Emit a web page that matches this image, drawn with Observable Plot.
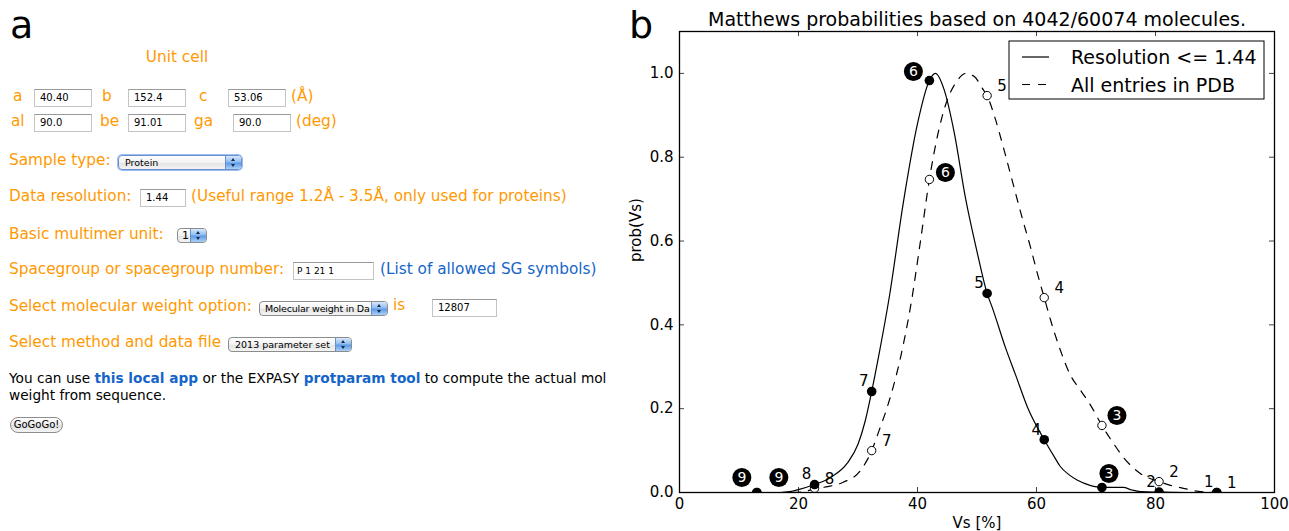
<!DOCTYPE html>
<html><head><meta charset="utf-8">
<script src="https://cdn.jsdelivr.net/npm/d3@7"></script>
<script src="https://cdn.jsdelivr.net/npm/@observablehq/plot@0.6"></script>
<style>
html,body{margin:0;padding:0;background:#fff;}
#page{position:relative;width:1289px;height:531px;overflow:hidden;font-family:"DejaVu Sans",Verdana,sans-serif;}
.t{position:absolute;font-size:15.3px;line-height:15px;white-space:nowrap;color:#ff9900;}
.blk{color:#000;font-size:13.7px;}
.lnk{color:#1565c9;}
.b{font-weight:bold;color:#1565c9;}
.letter{position:absolute;font-size:38px;line-height:38px;color:#000;}
.inp{position:absolute;box-sizing:border-box;background:#fff;border:1px solid #c4c4c4;border-top-color:#9a9a9a;font-size:10px;color:#000;padding-left:5px;white-space:nowrap;overflow:hidden;}
.sel{position:absolute;box-sizing:border-box;border:1px solid #8c8c8c;border-radius:4px;background:linear-gradient(#ffffff,#f2f2f2 50%,#e2e2e2 51%,#f4f4f4);font-size:9.5px;color:#000;padding-left:6px;white-space:nowrap;overflow:hidden;}
.sel .cap{position:absolute;right:0;top:0;bottom:0;width:15px;border-left:1px solid #6f8fc0;background:linear-gradient(#d7e8fc,#8fbdf3 45%,#5e9be6 55%,#a9d0f8);}
.sel .cap:before{content:"";position:absolute;left:5px;top:2px;border-left:2.5px solid transparent;border-right:2.5px solid transparent;border-bottom:3px solid #1a2a44;}
.sel .cap:after{content:"";position:absolute;left:5px;bottom:2px;border-left:2.5px solid transparent;border-right:2.5px solid transparent;border-top:3px solid #1a2a44;}
.focus{border-color:#6a8fd0;box-shadow:0 0 0 1px #9cc0f0;}
.btn{position:absolute;box-sizing:border-box;border:1px solid #8c8c8c;border-radius:8px;background:linear-gradient(#ffffff,#ececec 50%,#dedede 51%,#f4f4f4);font-size:10px;color:#000;text-align:center;white-space:nowrap;}
#chart{position:absolute;left:630px;top:0;}
</style>
</head><body>
<div id="page">
  <div class="letter" style="left:10px;top:6px;">a</div>
  <div class="letter" style="left:629px;top:6px;">b</div>

  <div class="t" style="left:0;width:354px;text-align:center;top:50px;">Unit cell</div>

  <div class="t" style="left:13px;top:89px;">a</div>
  <div class="inp" style="left:34px;top:89px;width:58px;height:18px;line-height:16px;">40.40</div>
  <div class="t" style="left:102px;top:89px;">b</div>
  <div class="inp" style="left:128px;top:89px;width:58px;height:18px;line-height:16px;">152.4</div>
  <div class="t" style="left:199px;top:89px;">c</div>
  <div class="inp" style="left:228px;top:89px;width:58px;height:18px;line-height:16px;">53.06</div>
  <div class="t" style="left:291px;top:89px;">(Å)</div>

  <div class="t" style="left:11px;top:114px;">al</div>
  <div class="inp" style="left:34px;top:114px;width:58px;height:18px;line-height:16px;">90.0</div>
  <div class="t" style="left:100px;top:114px;">be</div>
  <div class="inp" style="left:128px;top:114px;width:58px;height:18px;line-height:16px;">91.01</div>
  <div class="t" style="left:194px;top:114px;">ga</div>
  <div class="inp" style="left:233px;top:114px;width:58px;height:18px;line-height:16px;">90.0</div>
  <div class="t" style="left:296px;top:114px;">(deg)</div>

  <div class="t" style="left:9px;top:153px;">Sample type:</div>
  <div class="sel focus" style="left:118px;top:155px;width:124px;height:15px;line-height:13px;">Protein<span class="cap"></span></div>

  <div class="t" style="left:9px;top:189px;">Data resolution:</div>
  <div class="inp" style="left:140px;top:189px;width:46px;height:18px;line-height:16px;">1.44</div>
  <div class="t" style="left:191px;top:189px;">(Useful range 1.2Å - 3.5Å, only used for proteins)</div>

  <div class="t" style="left:9px;top:227px;">Basic multimer unit:</div>
  <div class="sel" style="left:177px;top:228px;width:30px;height:15px;line-height:13px;padding-left:4px;font-size:11px;">1<span class="cap"></span></div>

  <div class="t" style="left:9px;top:262px;">Spacegroup or spacegroup number:</div>
  <div class="inp" style="left:293px;top:262px;width:81px;height:18px;line-height:16px;font-size:9px;padding-left:3px;">P 1 21 1</div>
  <div class="t lnk" style="left:380px;top:262px;">(List of allowed SG symbols)</div>

  <div class="t" style="left:9px;top:299px;">Select molecular weight option:</div>
  <div class="sel" style="left:259px;top:301px;width:129px;height:15px;line-height:13px;letter-spacing:-0.2px;padding-left:5px;">Molecular weight in Da<span class="cap"></span></div>
  <div class="t" style="left:393px;top:298px;">is</div>
  <div class="inp" style="left:432px;top:299px;width:65px;height:18px;line-height:16px;">12807</div>

  <div class="t" style="left:9px;top:335px;">Select method and data file</div>
  <div class="sel" style="left:228px;top:337px;width:124px;height:15px;line-height:13px;">2013 parameter set<span class="cap"></span></div>

  <div class="t blk" style="left:9px;top:371px;">You can use <span class="b">this local app</span> or the EXPASY <span class="b">protparam tool</span> to compute the actual mol</div>
  <div class="t blk" style="left:9px;top:388px;">weight from sequence.</div>

  <div class="btn" style="left:10px;top:417px;width:53px;height:16px;line-height:14px;">GoGoGo!</div>

  <div id="chart"></div>
</div>
<script>
// ---- data ----
const copies = [1, 2, 3, 4, 5, 6, 7, 8, 9];
const vsPercent = [90.3, 80.6, 71.0, 61.3, 51.7, 42.0, 32.3, 22.7, 13.0];
const probHighRes = [0.000, 0.001, 0.012, 0.126, 0.475, 0.983, 0.241, 0.019, 0.000];
const probAllPdb = [0.000, 0.026, 0.160, 0.465, 0.947, 0.747, 0.100, 0.010, 0.000];
const badgeCopies = [9, 6, 3];

const curveHighResVs = [10, 17, 18.5, 20, 22.7, 25.4, 28.2, 30, 31.2, 32.3, 33.4, 35.3, 37.6, 40, 42, 43, 44.5, 46.1, 48.1, 50, 51.7, 52.6, 54.8, 56.5, 58.5, 61.3, 63, 64, 65.5, 66.9, 69, 71, 73, 74.6, 76, 77.5, 80.6, 85, 90.3, 100];
const curveHighResProb = [0, 0, 0.002, 0.007, 0.019, 0.036, 0.07, 0.115, 0.17, 0.241, 0.32, 0.47, 0.69, 0.88, 0.983, 1.0, 0.96, 0.864, 0.70, 0.575, 0.475, 0.44, 0.345, 0.28, 0.203, 0.126, 0.085, 0.062, 0.042, 0.029, 0.017, 0.012, 0.012, 0.012, 0.006, 0.002, 0.001, 0, 0, 0];
const curveAllVs = [19, 20.9, 22.7, 24.9, 27.6, 30.4, 32.3, 33.6, 34.9, 37.3, 39, 40.5, 42, 43.5, 44.7, 46.7, 48.1, 49.5, 51.1, 51.7, 53, 54.5, 56, 57.5, 59, 60.2, 61.3, 62.5, 64, 65.7, 67.5, 69.1, 71, 72.8, 74.6, 77.5, 80.6, 82.5, 84.7, 87.6, 90.3, 100];
const curveAllProb = [0, 0.002, 0.009, 0.014, 0.025, 0.052, 0.100, 0.15, 0.203, 0.332, 0.458, 0.60, 0.747, 0.86, 0.924, 0.983, 1.0, 0.993, 0.96, 0.947, 0.895, 0.82, 0.74, 0.66, 0.585, 0.52, 0.465, 0.405, 0.34, 0.28, 0.242, 0.208, 0.160, 0.12, 0.084, 0.045, 0.026, 0.017, 0.010, 0.002, 0, 0];

const xTicks = [0, 20, 40, 60, 80, 100];
const yTicks = [0, 0.2, 0.4, 0.6, 0.8, 1.0];
const titleText = "Matthews probabilities based on 4042/60074 molecules.";
const xLabel = "Vs [%]";
const yLabel = "prob(Vs)";
const seriesNames = ["Resolution <= 1.44", "All entries in PDB"];

// ---- tables ----
const points = copies.map((n, i) => ({n, vs: vsPercent[i], hi: probHighRes[i], all: probAllPdb[i]}));
const curveHi = curveHighResVs.map((x, i) => ({x, y: curveHighResProb[i]}));
const curveAll = curveAllVs.map((x, i) => ({x, y: curveAllProb[i]}));
const isBadge = d => badgeCopies.includes(d.n);

// ---- layout / styles ----
const W = 659, H = 531, mL = 49, mR = 15, mT = 31, mB = 39;
const frameW = W - mL - mR, frameH = H - mT - mB, tick = 5;
const dash = "8,8";
const solidBadgeOffset = {9: [-15, -15], 6: [-16, -9], 3: [7, -14]};
const dashedBadgeOffset = {9: [22, -15], 6: [16, -7], 3: [15, -10]};

function badgeMarks(key, offsets) {
  return badgeCopies.flatMap(n => {
    const [dx, dy] = offsets[n];
    const data = points.filter(d => d.n === n);
    return [
      Plot.dot(data, {x: "vs", y: key, r: 9.5, fill: "black", dx, dy}),
      Plot.text(data, {x: "vs", y: key, text: d => String(d.n), fill: "white", fontSize: 14, dx, dy})
    ];
  });
}

const chart = Plot.plot({
  width: W, height: H,
  marginLeft: mL, marginRight: mR, marginTop: mT, marginBottom: mB,
  style: {fontFamily: "DejaVu Sans", fontSize: "15px", color: "black", background: "transparent", overflow: "visible"},
  x: {domain: [0, 100]},
  y: {domain: [0, 1.1]},
  marks: [
    Plot.ruleX(xTicks, {x: d => d, insetTop: frameH - tick, stroke: "#444"}),
    Plot.ruleX(xTicks, {x: d => d, insetBottom: frameH - tick, stroke: "#444"}),
    Plot.ruleY(yTicks, {y: d => d, insetRight: frameW - tick, stroke: "#444"}),
    Plot.ruleY(yTicks, {y: d => d, insetLeft: frameW - tick, stroke: "#444"}),
    Plot.axisX({ticks: xTicks, tickSize: 0, tickPadding: 6, tickFormat: d3.format("d"), label: null, fontSize: 15}),
    Plot.axisY({ticks: yTicks, tickSize: 0, tickPadding: 6, tickFormat: d3.format(".1f"), label: null, fontSize: 15}),
    Plot.line(curveAll, {x: "x", y: "y", curve: "monotone-x", stroke: "black", strokeWidth: 1.2, strokeDasharray: dash, clip: true}),
    Plot.line(curveHi, {x: "x", y: "y", curve: "monotone-x", stroke: "black", strokeWidth: 1.2, clip: true}),
    Plot.dot(points, {x: "vs", y: "all", r: 4.2, fill: "white", stroke: "black", strokeWidth: 1, clip: true}),
    Plot.dot(points, {x: "vs", y: "hi", r: 4.8, fill: "black", clip: true}),
    Plot.text(points.filter(d => !isBadge(d)), {x: "vs", y: "hi", text: d => String(d.n), dx: -8, dy: -10, fontSize: 15}),
    Plot.text(points.filter(d => !isBadge(d)), {x: "vs", y: "all", text: d => String(d.n), dx: 15, dy: -9, fontSize: 15}),
    ...badgeMarks("hi", solidBadgeOffset),
    ...badgeMarks("all", dashedBadgeOffset),
    Plot.frame({stroke: "black", strokeWidth: 1.3}),
    Plot.text([titleText], {frameAnchor: "top", dy: -6, lineAnchor: "bottom", fontSize: 19}),
    Plot.text([xLabel], {frameAnchor: "bottom", dy: 35, lineAnchor: "bottom", fontSize: 15}),
    Plot.text([yLabel], {frameAnchor: "left", dx: -43, rotate: -90, fontSize: 15})
  ]
});

// legend box (upper right inside the frame)
const svg = d3.select(chart);
const lg = svg.append("g").attr("font-family", "DejaVu Sans").attr("font-size", 19).attr("text-anchor", "start");
const lx = mL + frameW - 10 - 255, ly = mT + 10;
lg.append("rect").attr("x", lx).attr("y", ly).attr("width", 255).attr("height", 58)
  .attr("fill", "white").attr("stroke", "black").attr("stroke-width", 1);
seriesNames.forEach((name, i) => {
  const y = ly + 16 + i * 27.5;
  lg.append("line").attr("x1", lx + 13).attr("x2", lx + 40).attr("y1", y).attr("y2", y)
    .attr("stroke", "black").attr("stroke-width", 1.2).attr("stroke-dasharray", i ? dash : null);
  lg.append("text").attr("x", lx + 62).attr("y", y + 7).attr("fill", "black").attr("text-anchor", "start").text(name);
});

document.getElementById("chart").appendChild(chart);
</script>
</body></html>
